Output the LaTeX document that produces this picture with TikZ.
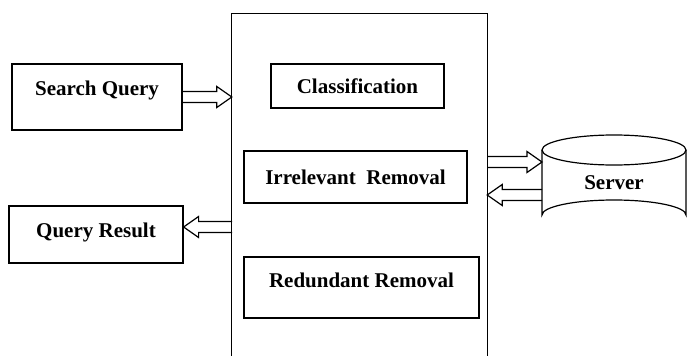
\documentclass[tikz,border=0pt]{standalone}
\usepackage{fontspec}
\setmainfont{Liberation Serif}
\usetikzlibrary{calc}
\tikzset{
  boxnode/.style={draw, line width=1.2pt, font=\fontsize{21}{25}\selectfont\bfseries, inner sep=0pt},
  blockarrow/.style={line width=1.2pt}
}
\def\hollowarrow(#1)(#2){\draw[blockarrow] let \p1=(#1), \p2=(#2), \n1={sign(\x2-\x1)} in (\x1,{\y1+5.5pt}) -- ({\x2-\n1*15pt},{\y1+5.5pt}) -- ({\x2-\n1*15pt},{\y1+10.5pt}) -- (\x2,\y1) -- ({\x2-\n1*15pt},{\y1-10.5pt}) -- ({\x2-\n1*15pt},{\y1-5.5pt}) -- (\x1,{\y1-5.5pt});}

\begin{document}
\begin{tikzpicture}[x=1pt, y=-1pt]
			%%%%% START %%%%%
			\useasboundingbox (0, 0) rectangle (688, 356);
			
			\node[minimum width=255, minimum height=342] (engine) at (359.5, 185) {};
			\draw[line width=1.2pt] (engine.south west) -- (engine.north west) -- (engine.north east) -- (engine.south east);
			
			\node[boxnode, minimum width=170, minimum height=66, text depth=17] (searchq) at (97, 97) {Search Query};
			\node[boxnode, minimum width=174, minimum height=57, text depth=8] (result) at (96, 234.5) {Query Result};
			
			\node[boxnode, minimum width=173, minimum height=44] (classif) at (357.5, 86) {Classification};
			\node[boxnode, minimum width=223, minimum height=52] (irrel) at (355.5, 177) {Irrelevant\ \ Removal};
			\node[boxnode, minimum width=235, minimum height=61, text depth=14] (redund) at (361.5, 287.5) {Redundant Removal};
			
			\node[font=\fontsize{21}{25}\selectfont\bfseries] (server) at (614, 183) {Server};
			\draw[line width=1.2pt] (542, 150) -- (542, 215) arc (180:360:72 and 15) -- (686, 150);
			\draw[line width=1.2pt] (614, 150) ellipse (72 and 15);
			
			\coordinate (srvin) at (542, 162);
			\coordinate (srvout) at (542, 195);
			\coordinate (resout) at (232, 227);
			
			\hollowarrow(searchq.east)(engine.west |- searchq.east)
			\hollowarrow(resout)(result.east |- resout)
			\hollowarrow(engine.east |- srvin)(srvin)
			\hollowarrow(srvout)(engine.east |- srvout)
			%%%%% END %%%%%
\end{tikzpicture}
\end{document}
